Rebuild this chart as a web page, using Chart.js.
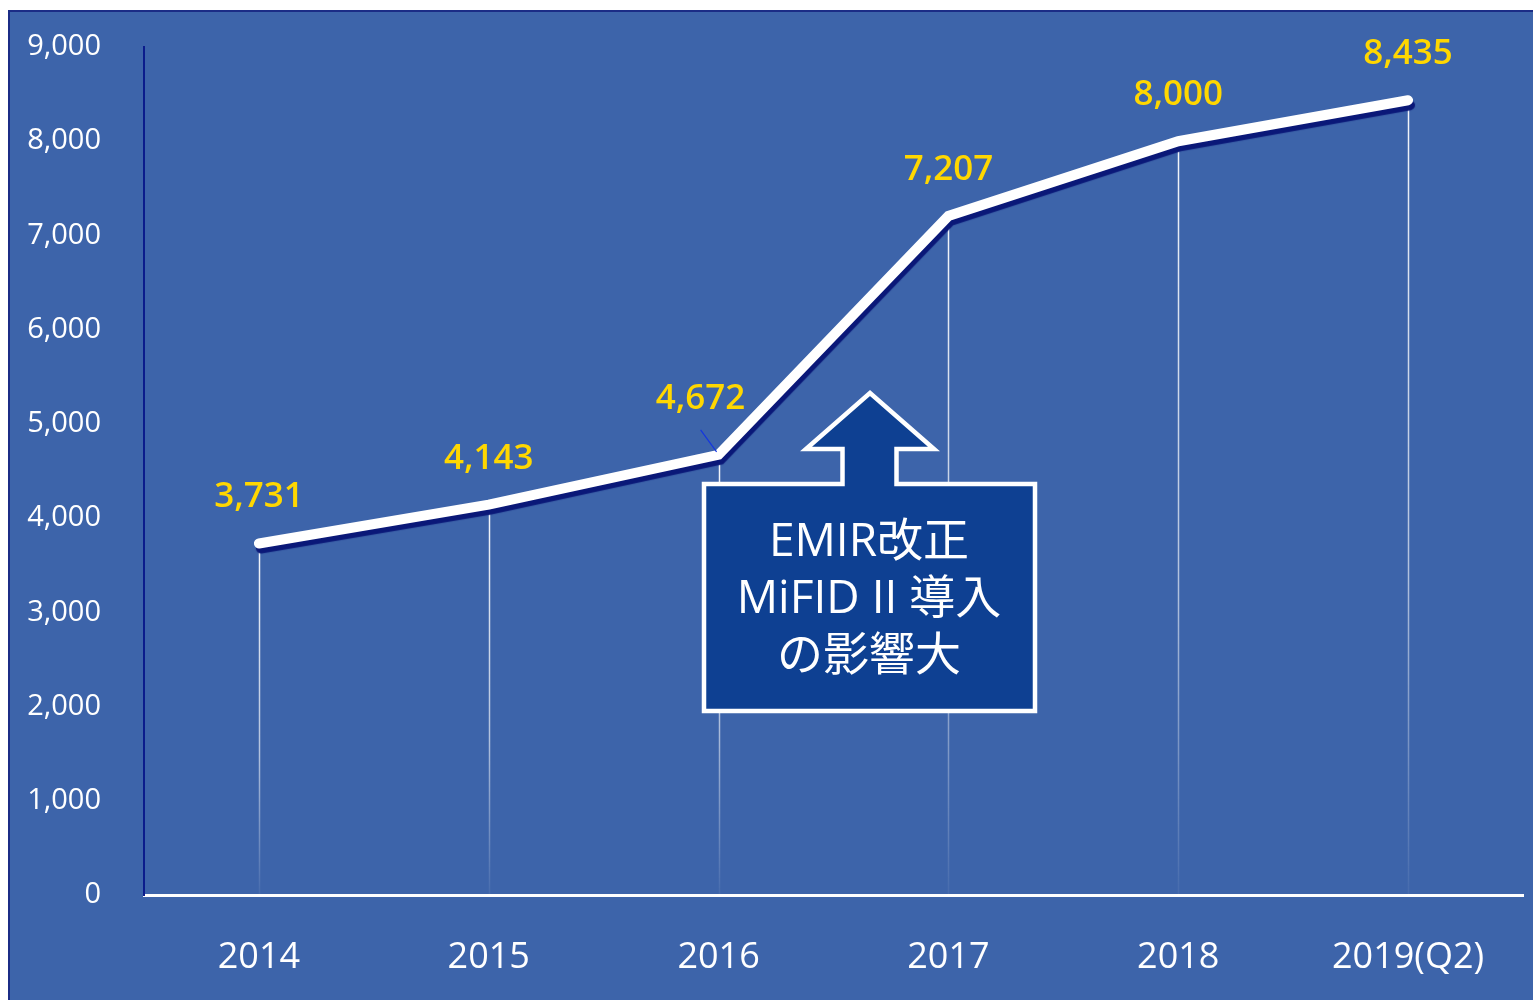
<!DOCTYPE html>
<html><head><meta charset="utf-8">
<script src="https://cdn.jsdelivr.net/npm/chart.js@4"></script>
<style>
html,body{margin:0;padding:0;background:#fff;overflow:hidden;width:1533px;height:1000px;}
#panel{position:absolute;left:8px;top:10px;width:1530px;height:990px;background:#3d64aa;border:2px solid #1b2c86;border-bottom:none;}
canvas{display:block;}
</style></head>
<body>
<div id="panel"><canvas id="c" width="1530" height="988"></canvas></div>
<script>
const categories = ['2014','2015','2016','2017','2018','2019(Q2)'];
const values = [3731, 4143, 4672, 7207, 8000, 8435];
const valueLabels = ['3,731','4,143','4,672','7,207','8,000','8,435'];
const yTicks = [0,1000,2000,3000,4000,5000,6000,7000,8000,9000];
const noteLines = ['EMIR改正','MiFID II 導入','の影響大'];

const FONT = '"Open Sans","Noto Sans","Noto Sans CJK JP",sans-serif';

const shadowPlugin = {
  id:'shadow',
  beforeDatasetDraw(chart){
    const ctx=chart.ctx; ctx.save();
    ctx.shadowColor='#0a1878'; ctx.shadowOffsetX=2; ctx.shadowOffsetY=5; ctx.shadowBlur=1;
  },
  afterDatasetDraw(chart){ chart.ctx.restore(); }
};

const dropLines = {
  id:'dropLines',
  beforeDatasetsDraw(chart){
    const ctx=chart.ctx, meta=chart.getDatasetMeta(0), bottom=chart.scales.y.getPixelForValue(0);
    ctx.save();
    meta.data.forEach(p=>{
      const g=ctx.createLinearGradient(0,p.y,0,bottom);
      g.addColorStop(0,'rgba(255,255,255,0.95)');
      g.addColorStop(0.6,'rgba(255,255,255,0.6)');
      g.addColorStop(1,'rgba(255,255,255,0.05)');
      ctx.strokeStyle=g; ctx.lineWidth=1.5;
      ctx.beginPath(); ctx.moveTo(Math.round(p.x)+0.5,p.y); ctx.lineTo(Math.round(p.x)+0.5,bottom); ctx.stroke();
    });
    ctx.restore();
  }
};

const valueLabelPlugin = {
  id:'valueLabels',
  afterDatasetsDraw(chart){
    const ctx=chart.ctx, meta=chart.getDatasetMeta(0);
    ctx.save();
    ctx.font='600 35px '+FONT; ctx.fillStyle='#ffd700'; ctx.textAlign='center'; ctx.textBaseline='middle';
    meta.data.forEach((p,i)=>{
      let dx=0, dy=-46;
      if(i===2){ dx=-18; dy=-56;
        ctx.strokeStyle='#1436e0'; ctx.lineWidth=1.2;
        ctx.beginPath(); ctx.moveTo(p.x-18,p.y-25); ctx.lineTo(p.x-2,p.y-3); ctx.stroke();
      }
      ctx.fillText(valueLabels[i], p.x+dx, p.y+dy);
    });
    ctx.restore();
  }
};

const notePlugin = {
  id:'note',
  afterDraw(chart){
    const ctx=chart.ctx;
    ctx.save();
    ctx.beginPath();
    ctx.moveTo(694,472); ctx.lineTo(832.5,472); ctx.lineTo(832.5,437); ctx.lineTo(796,437);
    ctx.lineTo(860,381); ctx.lineTo(924,437); ctx.lineTo(886.5,437); ctx.lineTo(886.5,472);
    ctx.lineTo(1025,472); ctx.lineTo(1025,699); ctx.lineTo(694,699); ctx.closePath();
    ctx.fillStyle='#0e4092'; ctx.fill();
    ctx.strokeStyle='#ffffff'; ctx.lineWidth=4.5; ctx.lineJoin='miter'; ctx.stroke();
    ctx.fillStyle='#ffffff'; ctx.font='46px '+FONT; ctx.textAlign='center'; ctx.textBaseline='middle';
    noteLines.forEach((t,i)=>ctx.fillText(t,859,531+i*57));
    ctx.restore();
  }
};

new Chart(document.getElementById('c'),{
  type:'line',
  data:{labels:categories,datasets:[{data:values,borderColor:'#ffffff',borderWidth:10,
    borderCapStyle:'round',borderJoinStyle:'miter',pointRadius:0,pointHoverRadius:0,tension:0,fill:false}]},
  options:{
    responsive:false, animation:false,
    layout:{autoPadding:false,padding:{top:35,right:17,left:0,bottom:0}},
    plugins:{legend:{display:false},tooltip:{enabled:false}},
    scales:{
      x:{offset:true,
        grid:{display:false,drawTicks:false},
        border:{display:true,color:'#ffffff',width:3},
        ticks:{color:'#ffffff',font:{family:FONT,size:36},padding:41,maxRotation:0,autoSkip:false},
        afterFit(s){s.height=105;s.paddingLeft=0;s.paddingRight=0;}
      },
      y:{min:0,max:9000,
        afterBuildTicks(s){s.ticks=yTicks.map(v=>({value:v}));},
        grid:{display:false,drawTicks:false},
        border:{display:true,color:'#0b1c8c',width:2},
        ticks:{color:'#ffffff',font:{family:FONT,size:29},padding:43,
          callback:v=>v.toLocaleString('en-US')},
        afterFit(s){s.width=134;s.paddingTop=0;s.paddingBottom=0;}
      }
    }
  },
  plugins:[dropLines,shadowPlugin,valueLabelPlugin,notePlugin]
});
</script>
</body></html>
